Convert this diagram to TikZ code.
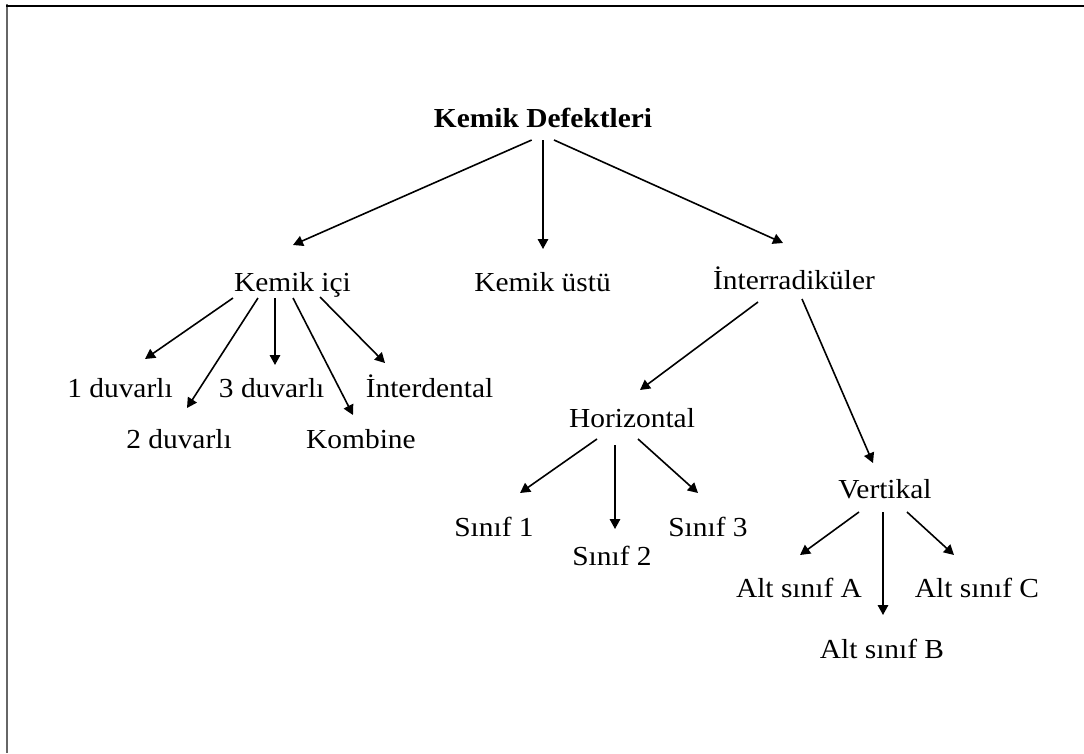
\documentclass[tikz,border=0pt]{standalone}
\usepackage{fontspec}
\setmainfont{Liberation Serif}[FakeStretch=1.07]
\usetikzlibrary{arrows.meta,calc}
\tikzset{
  lbl/.style={inner sep=0pt, anchor=base, font=\fontsize{27.5}{33}\selectfont},
  ttl/.style={lbl, font=\fontsize{27.5}{33}\selectfont\bfseries},
  arr/.style={line width=1.6pt, -{Triangle[length=10pt,width=10.5pt]}},
}
\newcommand\conn[4]{\draw[arr] ($(#1.base)+(#2)$) -- ($(#3.base)+(#4)$);}
\begin{document}
\begin{tikzpicture}[x=1pt,y=-1pt]
\useasboundingbox (0,0) rectangle (1084,753);
\draw[line width=2pt, black!60] (7,4) -- (7,753);
\draw[line width=2pt] (6,5.5) -- (1084,5.5);

\node[ttl] (T) at (543,127) {Kemik Defektleri};
\node[lbl] (KI) at (292.5,291) {Kemik içi};
\node[lbl] (KU) at (542.5,291) {Kemik üstü};
\node[lbl] (IR) at (794,289) {İnterradiküler};
\node[lbl] (D1) at (120,397) {1 duvarlı};
\node[lbl] (D3) at (271.7,397) {3 duvarlı};
\node[lbl] (ID) at (429.5,397) {İnterdental};
\node[lbl] (D2) at (179,448) {2 duvarlı};
\node[lbl] (KO) at (361,448) {Kombine};
\node[lbl] (HO) at (632,427) {Horizontal};
\node[lbl] (S1) at (494,536) {Sınıf 1};
\node[lbl] (S3) at (708,536) {Sınıf 3};
\node[lbl] (S2) at (612,565) {Sınıf 2};
\node[lbl] (VE) at (885,498) {Vertikal};
\node[lbl] (AA) at (799,597) {Alt sınıf A};
\node[lbl] (AC) at (977,597) {Alt sınıf C};
\node[lbl] (AB) at (882,658) {Alt sınıf B};

\conn{T}{-11.3,13}{KI}{0.5,-46}
\conn{T}{0,13}{KU}{0.5,-42}
\conn{T}{11,13}{IR}{-11,-46}
\conn{KI}{-59.5,7}{D1}{25,-38}
\conn{KI}{-34.5,7}{D2}{8,-40}
\conn{KI}{-17.5,7}{D3}{3.3,-32}
\conn{KI}{0.5,7}{KO}{-8,-33}
\conn{KI}{27.5,6}{ID}{-44.5,-34}
\conn{IR}{-36,13}{HO}{8,-37}
\conn{IR}{8,10}{VE}{-12,-35}
\conn{HO}{-35,12}{S1}{26,-43}
\conn{HO}{-17,18}{S2}{3,-36}
\conn{HO}{6,12}{S3}{-10,-43}
\conn{VE}{-26,14}{AA}{1,-42}
\conn{VE}{-2,14}{AB}{1,-43}
\conn{VE}{22,14}{AC}{-23,-42}
\end{tikzpicture}
\end{document}
